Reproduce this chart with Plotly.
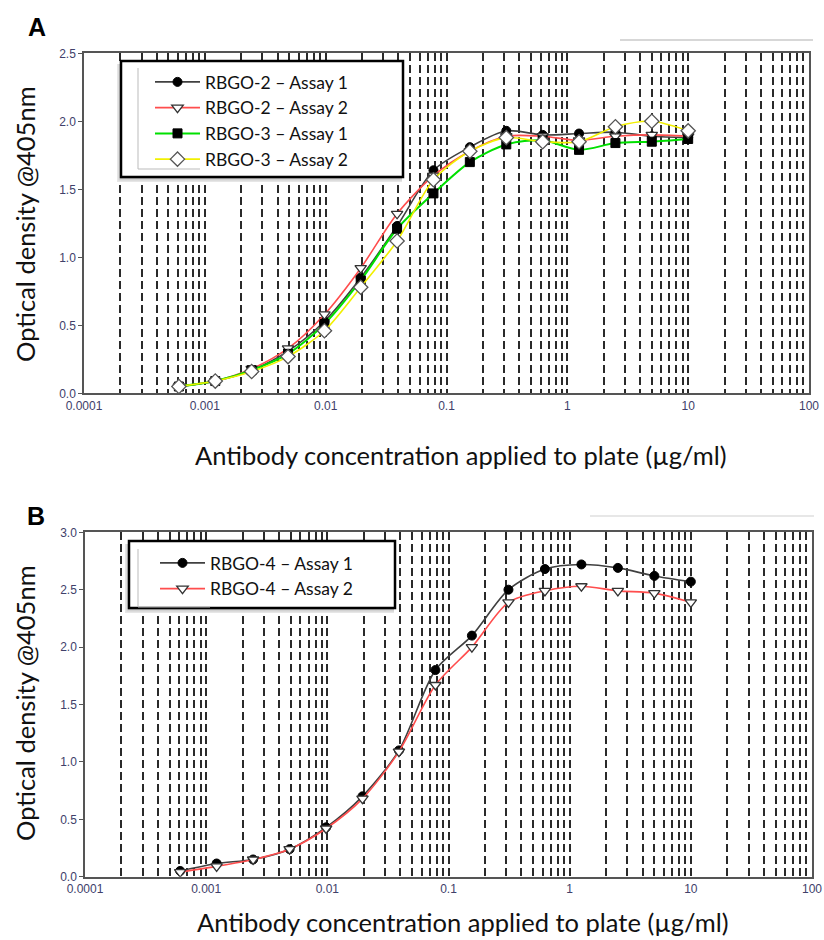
import plotly.graph_objects as go

# ---------------- data ----------------
conc = [0.00061, 0.00122, 0.00244, 0.00488, 0.00977, 0.0195, 0.039, 0.078,
        0.156, 0.3125, 0.625, 1.25, 2.5, 5, 10]

rbgo2_a1 = [0.05, 0.09, 0.17, 0.31, 0.53, 0.85, 1.23, 1.64, 1.81, 1.93, 1.90, 1.91, 1.92, 1.89, 1.88]
rbgo2_a2 = [0.05, 0.09, 0.18, 0.33, 0.58, 0.92, 1.32, 1.60, 1.78, 1.89, 1.89, 1.86, 1.89, 1.90, 1.89]
rbgo3_a1 = [0.05, 0.09, 0.17, 0.29, 0.51, 0.83, 1.21, 1.47, 1.70, 1.83, 1.86, 1.79, 1.84, 1.85, 1.87]
rbgo3_a2 = [0.05, 0.09, 0.16, 0.27, 0.46, 0.78, 1.12, 1.57, 1.78, 1.88, 1.85, 1.85, 1.96, 2.00, 1.93]

rbgo4_a1 = [0.05, 0.115, 0.15, 0.24, 0.43, 0.70, 1.10, 1.80, 2.10, 2.50, 2.68, 2.72, 2.69, 2.62, 2.57]
rbgo4_a2 = [0.04, 0.09, 0.15, 0.24, 0.42, 0.68, 1.09, 1.67, 2.00, 2.39, 2.49, 2.53, 2.49, 2.47, 2.39]

decade_vals = [0.0001, 0.001, 0.01, 0.1, 1, 10, 100]
decade_labels = ["0.0001", "0.001", "0.01", "0.1", "1", "10", "100"]

names_a = ["RBGO-2 \u2013 Assay 1", "RBGO-2 \u2013 Assay 2", "RBGO-3 \u2013 Assay 1", "RBGO-3 \u2013 Assay 2"]
names_b = ["RBGO-4 \u2013 Assay 1", "RBGO-4 \u2013 Assay 2"]

x_title = "Antibody concentration applied to plate (\u00b5g/ml)"
y_title = "Optical density @405nm"

# ---------------- layout helpers ----------------
W, H = 824, 940
def px(x):
    return x / W
def py(y):
    return 1 - y / H

# grid positions: every 1..9 x decade
grid_vals = []
grid_text = []
for i, d in enumerate(decade_vals):
    if i == len(decade_vals) - 1:
        grid_vals.append(d)
        grid_text.append(decade_labels[i])
        break
    for m in range(1, 10):
        grid_vals.append(d * m)
        grid_text.append(decade_labels[i] if m == 1 else "")

fig = go.Figure()

line_black = dict(color="#404040", width=1.6, shape="spline", smoothing=0.8)
line_red = dict(color="#ff4d4d", width=1.6, shape="spline", smoothing=0.8)
line_green = dict(color="#00e000", width=2, shape="spline", smoothing=0.8)
line_yellow = dict(color="#f2f000", width=1.6, shape="spline", smoothing=0.8)

m_circle = dict(symbol="circle", size=9, color="black", line=dict(color="black", width=1))
m_tri = dict(symbol="triangle-down", size=10, color="white", line=dict(color="#333333", width=1.3))
m_square = dict(symbol="square", size=9, color="black", line=dict(color="black", width=1))
m_diamond = dict(symbol="diamond", size=11, color="white", line=dict(color="#555555", width=1.3))

# Panel A
fig.add_trace(go.Scatter(x=conc, y=rbgo2_a1, name=names_a[0], mode="lines+markers",
                         line=line_black, marker=m_circle, xaxis="x", yaxis="y", legend="legend"))
fig.add_trace(go.Scatter(x=conc, y=rbgo2_a2, name=names_a[1], mode="lines+markers",
                         line=line_red, marker=m_tri, xaxis="x", yaxis="y", legend="legend"))
fig.add_trace(go.Scatter(x=conc, y=rbgo3_a1, name=names_a[2], mode="lines+markers",
                         line=line_green, marker=m_square, xaxis="x", yaxis="y", legend="legend"))
fig.add_trace(go.Scatter(x=conc, y=rbgo3_a2, name=names_a[3], mode="lines+markers",
                         line=line_yellow, marker=m_diamond, xaxis="x", yaxis="y", legend="legend"))

# Panel B
fig.add_trace(go.Scatter(x=conc, y=rbgo4_a1, name=names_b[0], mode="lines+markers",
                         line=line_black, marker=m_circle, xaxis="x2", yaxis="y2", legend="legend2"))
fig.add_trace(go.Scatter(x=conc, y=rbgo4_a2, name=names_b[1], mode="lines+markers",
                         line=line_red, marker=m_tri, xaxis="x2", yaxis="y2", legend="legend2"))

tickfont = dict(family="Liberation Sans, Arial", size=12, color="#40406a")

def xaxis_cfg(dom, anchor):
    return dict(type="log", range=[-4, 2], domain=dom, anchor=anchor, automargin=False,
                tickmode="array", tickvals=grid_vals, ticktext=grid_text,
                showgrid=True, gridcolor="#2a2a2a", gridwidth=1.5, griddash="8px,4px",
                showline=True, linecolor="#555555", linewidth=2, mirror=True,
                ticks="", tickfont=tickfont, zeroline=False, ticklabeloverflow="allow")

def yaxis_cfg(dom, anchor, top):
    return dict(range=[0, top], domain=dom, anchor=anchor, dtick=0.5, tickformat=".1f", automargin=False,
                showgrid=False, showline=True, linecolor="#555555", linewidth=1.5, mirror=True,
                ticks="outside", ticklen=4, tickcolor="#555555", tickfont=tickfont, zeroline=False)

A_x = [px(84), px(809)]
A_y = [py(393.3), py(53.3)]
B_x = [px(85), px(812)]
B_y = [py(876.7), py(532.3)]

legend_font = dict(family="Lato", size=17.5, color="#111111")
fig.update_layout(
    width=W, height=H, margin=dict(l=0, r=0, t=0, b=0),
    paper_bgcolor="white", plot_bgcolor="white",
    xaxis=xaxis_cfg(A_x, "y"), yaxis=yaxis_cfg(A_y, "x", 2.5),
    xaxis2=xaxis_cfg(B_x, "y2"), yaxis2=yaxis_cfg(B_y, "x2", 3.0),
    legend=dict(x=px(150), y=py(64), xanchor="left", yanchor="top", itemwidth=45,
                bgcolor="rgba(0,0,0,0)", borderwidth=0, font=legend_font, tracegroupgap=0),
    legend2=dict(x=px(155), y=py(545), xanchor="left", yanchor="top", itemwidth=45,
                 bgcolor="rgba(0,0,0,0)", borderwidth=0, font=legend_font, tracegroupgap=0),
    showlegend=True,
)

shapes = []
# legend boxes with soft shadows
for (x0, y0, x1, y1) in [(121, 61, 403, 177), (129, 541, 395, 608)]:
    for k, c in enumerate(["#e6e6e6", "#d2d2d2", "#bdbdbd"]):
        off = 5 - k * 1.5
        shapes.append(dict(type="rect", xref="paper", yref="paper", layer="above",
                           x0=px(x0 - off + 1), x1=px(x1 - 1), y0=py(y1 + off), y1=py(y0 + 3),
                           fillcolor=c, line=dict(width=0)))
    shapes.append(dict(type="rect", xref="paper", yref="paper", layer="above",
                       x0=px(x0), x1=px(x1), y0=py(y1), y1=py(y0),
                       fillcolor="white", line=dict(color="black", width=2.5)))
# inner thin frame lines in legends
shapes.append(dict(type="line", xref="paper", yref="paper", layer="above",
                   x0=px(138), x1=px(138), y0=py(169), y1=py(68), line=dict(color="#bbbbbb", width=1)))
shapes.append(dict(type="line", xref="paper", yref="paper", layer="above",
                   x0=px(138), x1=px(200), y0=py(169), y1=py(169), line=dict(color="#bbbbbb", width=1)))
shapes.append(dict(type="line", xref="paper", yref="paper", layer="above",
                   x0=px(138), x1=px(138), y0=py(607), y1=py(549), line=dict(color="#bbbbbb", width=1)))
shapes.append(dict(type="line", xref="paper", yref="paper", layer="above",
                   x0=px(138), x1=px(210), y0=py(607), y1=py(607), line=dict(color="#bbbbbb", width=1)))
# faint lines above plots
shapes.append(dict(type="line", xref="paper", yref="paper", x0=px(620), x1=px(813), y0=py(40), y1=py(40),
                   line=dict(color="#b0b0b0", width=1.2)))
shapes.append(dict(type="line", xref="paper", yref="paper", x0=px(590), x1=px(814), y0=py(516), y1=py(516),
                   line=dict(color="#cfcfcf", width=1.2)))
fig.update_layout(shapes=shapes)

title_font = dict(family="Lato", size=25.5, color="#111111")
def ann(text, x, y, font, angle=0):
    return dict(text=text, x=px(x), y=py(y), xref="paper", yref="paper", showarrow=False,
                xanchor="center", yanchor="middle", textangle=angle, font=font)

letter_font = dict(family="Liberation Sans, Arial", size=25, color="black")
annots = [
    ann("<b>A</b>", 37, 27, letter_font),
    ann("<b>B</b>", 36, 516, letter_font),
    ann(x_title, 461, 455, title_font),
    ann(x_title, 463, 922, title_font),
    ann(y_title, 25, 224, title_font, -90),
    ann(y_title, 25, 703, title_font, -90),
]
fig.update_layout(annotations=annots)

fig.write_html("out.html")
